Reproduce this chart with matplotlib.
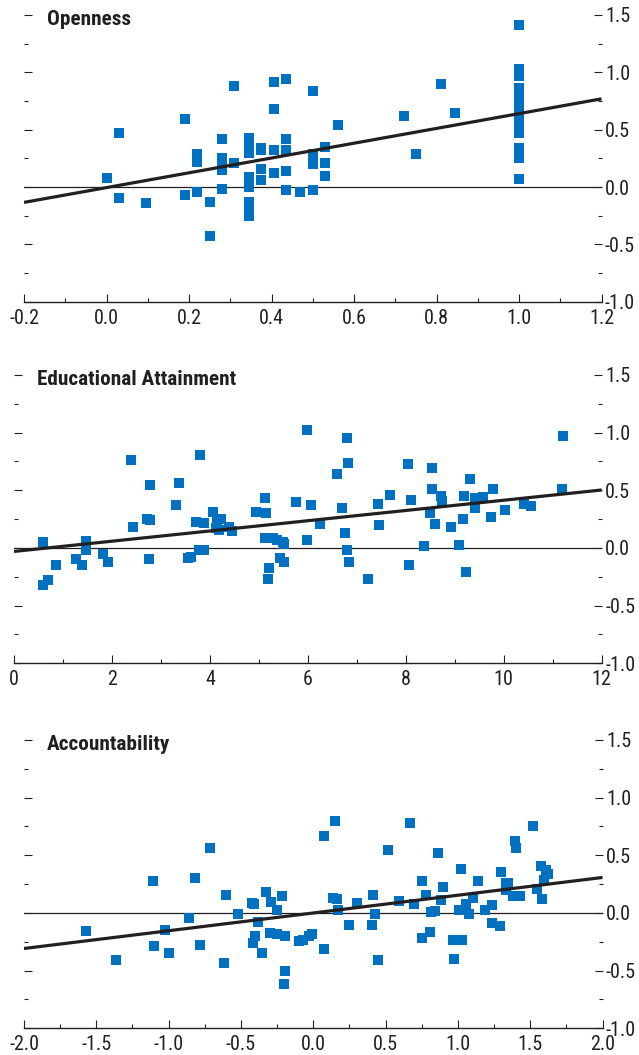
# Scatter panels: Openness, Educational Attainment, Accountability
import numpy as np
import matplotlib.pyplot as plt
from matplotlib.ticker import MultipleLocator, FormatStrFormatter

plt.rcParams['font.family'] = ['Roboto Condensed', 'DejaVu Sans']
plt.rcParams['axes.unicode_minus'] = False

# Дані: Openness
open_x = [0.00, 0.03, 0.03, 0.095, 0.19, 0.19, 0.22, 0.22, 0.22, 0.25, 0.25,
          0.28, 0.28, 0.28, 0.28, 0.28, 0.31, 0.31,
          0.345, 0.345, 0.345, 0.345, 0.345, 0.345, 0.345, 0.345,
          0.345, 0.345, 0.345, 0.345,
          0.375, 0.375, 0.375, 0.375,
          0.405, 0.405, 0.405, 0.405,
          0.435, 0.435, 0.435, 0.435, 0.435, 0.47,
          0.50, 0.50, 0.50, 0.50, 0.53, 0.53, 0.53, 0.56,
          0.72, 0.75, 0.81, 0.845,
          1.0, 1.0, 1.0, 1.0, 1.0, 1.0, 1.0, 1.0, 1.0,
          1.0, 1.0, 1.0, 1.0, 1.0, 1.0, 1.0, 1.0, 1.0]
open_y = [0.08, 0.47, -0.10, -0.14, 0.59, -0.07, 0.29, 0.22, -0.04, -0.13, -0.43,
          0.42, 0.25, 0.20, 0.15, -0.02, 0.88, 0.21,
          0.43, 0.40, 0.36, 0.33, 0.30, 0.09, 0.05, 0.00,
          -0.13, -0.17, -0.21, -0.25,
          0.34, 0.32, 0.16, 0.06,
          0.92, 0.68, 0.32, 0.12,
          0.94, 0.42, 0.32, 0.14, -0.025, -0.04,
          0.84, 0.29, 0.20, -0.025, 0.345, 0.21, 0.10, 0.54,
          0.615, 0.29, 0.90, 0.645,
          1.41, 1.03, 1.00, 0.97, 0.86, 0.82, 0.77, 0.72, 0.68,
          0.64, 0.60, 0.55, 0.51, 0.47, 0.34, 0.30, 0.25, 0.07]
open_fit = (0.645, -0.005)  # нахил, зсув

# Дані: Educational Attainment
edu_x = [0.60, 0.60, 0.69, 0.86, 1.27, 1.39, 1.47, 1.47, 1.81, 1.91,
         2.38, 2.42, 2.71, 2.77, 2.77, 2.75, 3.30, 3.36, 3.55, 3.61,
         3.79, 3.72, 3.88, 3.78, 3.88, 4.06, 4.14, 4.22, 4.12, 4.19,
         4.38, 4.46, 4.94, 5.14, 5.12, 5.12, 5.28, 5.38, 5.49, 5.51,
         5.20, 5.18, 5.43, 5.51, 5.75, 5.98, 6.06, 5.98, 6.25,
         6.79, 6.83, 6.59, 6.69, 6.75, 6.79, 6.85, 7.22, 7.43, 7.45,
         7.67, 8.04, 8.10, 8.06, 8.37, 8.49, 8.53, 8.53, 8.59, 8.71,
         8.74, 8.92, 9.08, 9.18, 9.16, 9.22, 9.31, 9.42, 9.57, 9.41,
         9.73, 9.78, 10.02, 10.41, 10.55, 11.20, 11.18]
edu_y = [0.055, -0.32, -0.275, -0.15, -0.095, -0.15, 0.058, -0.02, -0.055, -0.125,
         0.76, 0.18, 0.25, 0.24, 0.545, -0.095, 0.375, 0.56, -0.087, -0.08,
         0.81, 0.225, 0.22, -0.015, -0.015, 0.315, 0.24, 0.25, 0.17, 0.156,
         0.185, 0.15, 0.31, 0.30, 0.43, 0.09, 0.084, 0.07, 0.055, 0.035,
         -0.17, -0.27, -0.084, -0.12, 0.40, 1.02, 0.375, 0.072, 0.21,
         0.95, 0.74, 0.645, 0.35, 0.13, -0.017, -0.12, -0.27, 0.385, 0.20,
         0.46, 0.73, 0.42, -0.15, 0.02, 0.30, 0.69, 0.51, 0.21, 0.455,
         0.405, 0.185, 0.03, 0.455, 0.255, -0.21, 0.60, 0.43, 0.44, 0.35,
         0.27, 0.515, 0.33, 0.385, 0.36, 0.975, 0.51]
edu_fit = (0.0444, -0.03)

# Дані: Accountability
acc_x = [-1.571, -1.366, -1.11, -1.10, -1.027, -0.997, -0.859, -0.82, -0.786, -0.716,
         -0.605, -0.62, -0.522, -0.425, -0.41, -0.384, -0.405, -0.418, -0.356, -0.328,
         -0.294, -0.252, -0.218, -0.30, -0.252, -0.197, -0.197, -0.204, -0.10, -0.073,
         -0.031, -0.01,
         0.075, 0.075, 0.149, 0.135, 0.163, 0.169, 0.245, 0.30, 0.41, 0.425,
         0.405, 0.446, 0.515, 0.59, 0.667, 0.70, 0.75, 0.777, 0.75, 0.81,
         0.817, 0.845, 0.86, 0.90, 0.88, 0.965, 1.027, 0.971, 1.02, 1.006,
         1.055, 1.075, 1.103, 1.137, 1.186, 1.234, 1.234, 1.29, 1.297, 1.33,
         1.35, 1.33, 1.38, 1.428, 1.393, 1.40, 1.518, 1.546, 1.574, 1.58,
         1.608, 1.622, 1.594]
acc_y = [-0.16, -0.41, 0.274, -0.29, -0.15, -0.35, -0.045, 0.30, -0.28, 0.56,
         0.153, -0.43, -0.012, 0.083, 0.075, -0.078, -0.20, -0.26, -0.35, 0.18,
         0.092, 0.03, 0.144, -0.177, -0.186, -0.20, -0.50, -0.62, -0.243, -0.234,
         -0.20, -0.186,
         0.67, -0.316, 0.80, 0.127, 0.118, 0.03, -0.10, 0.087, 0.153, -0.012,
         -0.10, -0.41, 0.543, 0.10, 0.777, 0.075, 0.274, 0.16, -0.22, -0.168,
         0.005, 0.014, 0.517, 0.222, 0.11, -0.23, -0.23, -0.40, 0.378, 0.03,
         0.075, -0.012, 0.127, 0.274, 0.022, 0.066, -0.09, -0.116, 0.352, 0.257,
         0.257, 0.196, 0.144, 0.144, 0.62, 0.56, 0.75, 0.205, 0.404, 0.118,
         0.37, 0.335, 0.29]
acc_fit = (0.154, 0.0)

panels = [
    ('Openness', open_x, open_y, open_fit, (-0.2, 1.2), 0.2, 0.1, '%.1f',
     [24, 15, 601.5, 301.7]),
    ('Educational Attainment', edu_x, edu_y, edu_fit, (0, 12), 2, 1, '%d',
     [14, 375, 601.7, 663.3]),
    ('Accountability', acc_x, acc_y, acc_fit, (-2.0, 2.0), 0.5, 0.25, '%.1f',
     [24, 740, 602.5, 1028.3]),
]

W, H = 639, 1055
blue = '#0070C0'
dark = '#231F20'

fig = plt.figure(figsize=(W / 100, H / 100), dpi=100)

for title, xs, ys, fit, xlim, xmaj, xmin, fmt, box in panels:
    l, t, r, b = box
    ax = fig.add_axes([l / W, 1 - b / H, (r - l) / W, (b - t) / H])
    ax.axhline(0, color=dark, lw=0.9, zorder=1)
    ax.scatter(xs, ys, s=52, marker='s', color=blue, linewidths=0, zorder=2,
               clip_on=False)
    xx = np.array(xlim)
    ax.plot(xx, fit[0] * xx + fit[1], color=dark, lw=2.3, zorder=3,
            solid_capstyle='butt')
    ax.set_xlim(xlim)
    ax.set_ylim(-1.0, 1.5)
    for side in ['left', 'top', 'right']:
        ax.spines[side].set_visible(False)
    ax.spines['bottom'].set_color(dark)
    ax.spines['bottom'].set_linewidth(1.0)
    ax.xaxis.set_major_locator(MultipleLocator(xmaj))
    ax.xaxis.set_minor_locator(MultipleLocator(xmin))
    ax.xaxis.set_major_formatter(FormatStrFormatter(fmt))
    ax.yaxis.set_major_locator(MultipleLocator(0.5))
    ax.yaxis.set_minor_locator(MultipleLocator(0.25))
    ax.yaxis.set_major_formatter(FormatStrFormatter('%.1f'))
    ax.tick_params(axis='both', which='both', direction='in', color=dark,
                   width=0.8, labelcolor=dark, labelsize=14.5)
    ax.tick_params(axis='both', which='major', length=5.5)
    ax.tick_params(axis='both', which='minor', length=3)
    ax.tick_params(axis='y', which='both', left=True, right=True,
                   labelleft=False, labelright=True, pad=2.5)
    ax.tick_params(axis='x', pad=5)
    ax.patch.set_alpha(0)
    ax.annotate(title, xy=(0, 1), xycoords='axes fraction',
                xytext=(16.5, -7.5), textcoords='offset points',
                ha='left', va='baseline', fontsize=15.3, fontweight='bold',
                color=dark)

fig.savefig('out.png', dpi=100)
